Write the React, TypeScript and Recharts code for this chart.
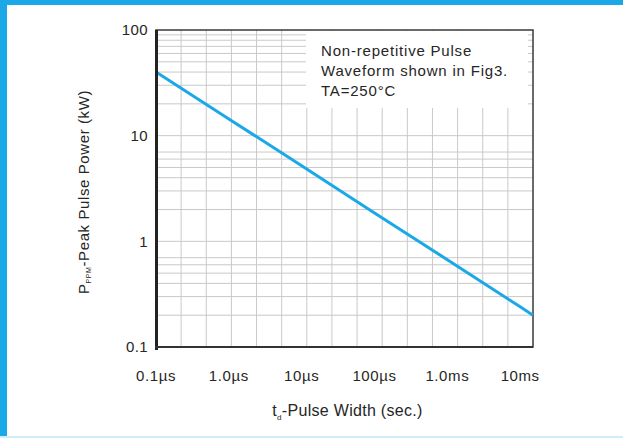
import React from 'react';
import {
  LineChart,
  Line,
  XAxis,
  YAxis,
  CartesianGrid,
  ReferenceArea,
} from 'recharts';

// pulse width (s) vs peak pulse power (kW)
const pulseWidth = [1e-7, 1e-6, 1e-5, 1e-4, 1e-3, 1e-2, 1.5e-2];
const peakPower = [40, 14.4, 5.2, 1.85, 0.67, 0.24, 0.2];

const xTicks = [1e-7, 1e-6, 1e-5, 1e-4, 1e-3, 1e-2];
const xTickLabels = ['0.1µs', '1.0µs', '10µs', '100µs', '1.0ms', '10ms'];
const yTicks = [0.1, 1, 10, 100];
const yTickLabels = ['0.1', '1', '10', '100'];
const yGridValues = [
  0.2, 0.3, 0.4, 0.5, 0.6, 0.7, 0.8, 0.9, 1,
  2, 3, 4, 5, 6, 7, 8, 9, 10,
  20, 30, 40, 50, 60, 70, 80, 90,
];

const X_MIN = 1e-7;
const X_MAX = 1.5e-2;

const data = pulseWidth.map((t, i) => ({ t, p: peakPower[i] }));

const FONT = '"Liberation Sans", Arial, sans-serif';
const TEXT = '#262626';
const BLUE = '#1aa9e6';

const XTitle = (props: any) => {
  const { viewBox } = props;
  const cx = viewBox.x + viewBox.width / 2 + 3;
  return (
    <text x={cx} y={416} textAnchor="middle" fill={TEXT} fontSize={16} fontFamily={FONT} letterSpacing={0.3}>
      <tspan>t</tspan>
      <tspan fontSize={8} dy={4}>d</tspan>
      <tspan dy={-4}>-Pulse Width (sec.)</tspan>
    </text>
  );
};

const YTitle = () => {
  const x = 89;
  const y = 192;
  return (
    <text x={x} y={y} transform={`rotate(-90, ${x}, ${y})`} textAnchor="middle" fill={TEXT} fontSize={15} fontFamily={FONT} letterSpacing={0.6}>
      <tspan>P</tspan>
      <tspan fontSize={7} dy={2}>PPM</tspan>
      <tspan dy={-2}>-Peak Pulse Power (kW)</tspan>
    </text>
  );
};

export default function App() {
  return (
    <div style={{ position: 'absolute', left: 0, top: 0, width: 623, height: 438, background: '#fff', fontFamily: FONT }}>
      <LineChart
        width={623}
        height={438}
        data={data}
        margin={{ top: 30, right: 90, bottom: 61, left: 0 }}
      >
        <CartesianGrid
          stroke="#c9c9c9"
          strokeWidth={1}
          horizontalValues={yGridValues}
          verticalCoordinatesGenerator={({ offset }: any) =>
            Array.from({ length: 14 }, (_, i) => offset.left + ((i + 1) * offset.width) / 15)
          }
        />
        <XAxis
          dataKey="t"
          type="number"
          scale="log"
          domain={[X_MIN, X_MAX]}
          ticks={xTicks}
          tickFormatter={(v: number) => xTickLabels[xTicks.findIndex((t) => Math.abs(t - v) / t < 1e-6)] ?? ''}
          tick={{ fill: TEXT, fontSize: 15, letterSpacing: 0.6 } as any}
          tickLine={false}
          tickSize={0}
          tickMargin={23}
          axisLine={false}
          height={30}
          allowDataOverflow
          label={<XTitle />}
        />
        <YAxis
          type="number"
          scale="log"
          domain={[0.1, 100]}
          ticks={yTicks}
          tickFormatter={(v: number) => yTickLabels[yTicks.findIndex((t) => Math.abs(t - v) / t < 1e-6)] ?? ''}
          tick={{ fill: TEXT, fontSize: 15, letterSpacing: 0.4 } as any}
          tickLine={false}
          tickSize={0}
          tickMargin={8}
          axisLine={false}
          width={156}
          allowDataOverflow
          label={<YTitle />}
        />
        <ReferenceArea
          x1={X_MIN}
          x2={X_MAX}
          y1={0.1}
          y2={100}
          fill="none"
          fillOpacity={0}
          stroke="#3a3a3a"
          strokeWidth={1.5}
        />
        <Line
          type="linear"
          dataKey="p"
          stroke={BLUE}
          strokeWidth={3}
          dot={false}
          isAnimationActive={false}
        />
      </LineChart>

      {/* heavier left and bottom axis lines */}
      <div style={{ position: 'absolute', left: 155, top: 30, width: 2.5, height: 320, background: '#222' }} />
      <div style={{ position: 'absolute', left: 155, top: 345.5, width: 378, height: 2.5, background: '#333' }} />

      {/* annotation box */}
      <div
        style={{
          position: 'absolute',
          left: 306,
          top: 31,
          width: 222,
          height: 77,
          background: '#fff',
          color: TEXT,
          fontSize: 15,
          letterSpacing: 0.8,
          lineHeight: '20px',
          boxSizing: 'border-box',
          paddingLeft: 15,
          paddingTop: 10,
        }}
      >
        <div>Non-repetitive Pulse</div>
        <div>Waveform shown in Fig3.</div>
        <div>TA=250°C</div>
      </div>

      {/* frame */}
      <div style={{ position: 'absolute', left: 0, top: 0, width: 623, height: 5, background: BLUE }} />
      <div style={{ position: 'absolute', left: 0, top: 0, width: 7, height: 438, background: BLUE }} />
      <div style={{ position: 'absolute', left: 0, top: 436, width: 623, height: 2, background: '#cfeefb' }} />
    </div>
  );
}
